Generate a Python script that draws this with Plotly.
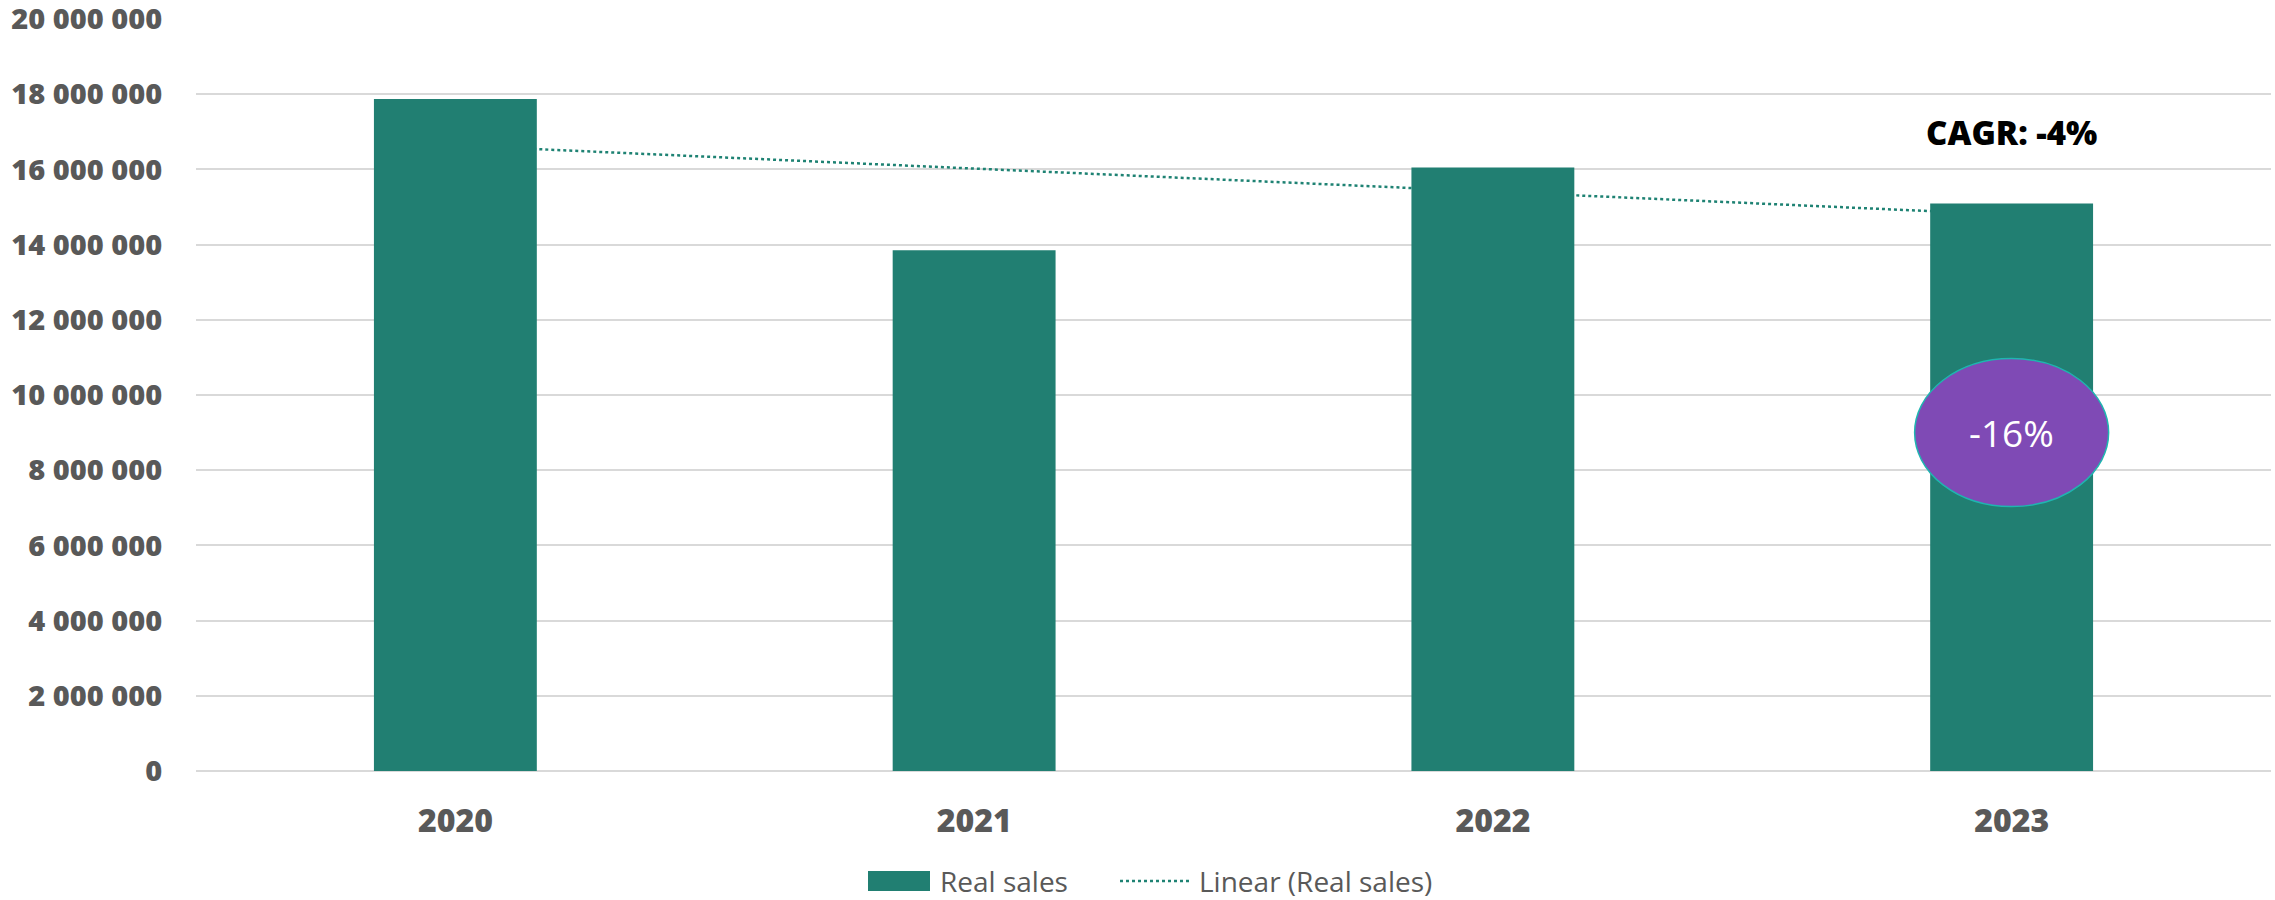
import numpy as np
import plotly.graph_objects as go

# ---- data -------------------------------------------------------------
years = ["2020", "2021", "2022", "2023"]
real_sales = [17_870_000, 13_850_000, 16_050_000, 15_090_000]
y_ticks = [0, 2_000_000, 4_000_000, 6_000_000, 8_000_000, 10_000_000,
           12_000_000, 14_000_000, 16_000_000, 18_000_000, 20_000_000]
series_name = "Real sales"
trend_name = "Linear (Real sales)"
badge_level = 9_000_000          # vertical centre of the change badge

# ---- derived values -----------------------------------------------------
idx = np.arange(len(years))
slope, intercept = np.polyfit(idx, real_sales, 1)
trend = intercept + slope * idx

total_change = real_sales[-1] / real_sales[0] - 1
cagr = (real_sales[-1] / real_sales[0]) ** (1 / len(years)) - 1

# ---- styling -------------------------------------------------------------
W, H = 2275, 900
ML, MR, MT, MB = 196, 4, 19, 129
BAR = "#217f72"
TREND = "#1e8273"
GRID = "#d9d9d9"
LABEL = "#595959"
FONT = "Open Sans"

plot_w = W - ML - MR
plot_h = H - MT - MB


def px_x(px):
    return (px - ML) / plot_w


def px_y(py):
    return (H - MB - py) / plot_h


fig = go.Figure()

# trend line sits on the base axes so the bars (overlay axes) cover it
fig.add_trace(go.Scatter(
    x=years, y=trend, mode="lines", name=trend_name,
    line=dict(color=TREND, width=2.5, dash="dot"),
    xaxis="x", yaxis="y", showlegend=False, hoverinfo="skip",
))
fig.add_trace(go.Bar(
    x=years, y=real_sales, name=series_name,
    marker=dict(color=BAR, line=dict(width=0)),
    xaxis="x", yaxis="y2", showlegend=False,
))

y_range = [0, max(y_ticks)]

fig.update_layout(
    width=W, height=H,
    margin=dict(l=ML, r=MR, t=MT, b=MB, pad=0, autoexpand=False),
    paper_bgcolor="white", plot_bgcolor="white",
    separators=". ",
    bargap=0.686,
    showlegend=False,
    font=dict(family=FONT, color=LABEL),
    xaxis=dict(
        type="category", showgrid=False, showline=False, zeroline=False,
        automargin=False,
        ticks="outside", ticklen=22, tickcolor="rgba(0,0,0,0)",
        tickfont=dict(family=FONT, size=32, color=LABEL, weight=800),
    ),
    yaxis=dict(
        range=y_range, tickvals=y_ticks, tickformat=",",
        showgrid=True, gridcolor=GRID, gridwidth=2,
        zeroline=True, zerolinecolor=GRID, zerolinewidth=2,
        showline=False, ticklabeloverflow="allow", automargin=False,
        ticks="outside", ticklen=27, tickcolor="rgba(0,0,0,0)",
        tickfont=dict(family=FONT, size=29, color=LABEL, weight=800),
    ),
    yaxis2=dict(
        range=y_range, overlaying="y", showgrid=False, zeroline=False,
        showticklabels=False, showline=False, ticks="", automargin=False,
    ),
)

# change badge on the last bar
fig.add_shape(
    type="circle", xref="x", yref="y",
    xsizemode="pixel", ysizemode="pixel",
    xanchor=len(years) - 1, yanchor=badge_level,
    x0=-97, x1=97, y0=-74, y1=74,
    fillcolor="#7f4ab5", line=dict(color="#1fb5b0", width=1.5),
    layer="above",
)
fig.add_annotation(
    x=len(years) - 1, y=badge_level, xref="x", yref="y",
    xanchor="center", yanchor="middle",
    text=f"{total_change:.0%}".replace("−", "-"), showarrow=False,
    font=dict(family=FONT, size=37, color="white"),
)

# CAGR label
fig.add_annotation(
    x=len(years) - 1, y=px_y(133), xref="x", yref="paper",
    xanchor="center", yanchor="middle",
    text=f"CAGR: {cagr:.0%}", showarrow=False,
    font=dict(family=FONT, size=33, color="black", weight=800),
)

# legend
legend_y = px_y(881)
fig.add_shape(
    type="rect", xref="paper", yref="paper",
    x0=px_x(868), x1=px_x(930), y0=px_y(891), y1=px_y(871),
    fillcolor=BAR, line=dict(width=0),
)
fig.add_annotation(
    x=px_x(938), y=legend_y, xref="paper", yref="paper",
    xanchor="left", yanchor="middle", text=series_name, showarrow=False,
    font=dict(family=FONT, size=28, color=LABEL),
)
fig.add_shape(
    type="line", xref="paper", yref="paper",
    x0=px_x(1120), x1=px_x(1190), y0=legend_y, y1=legend_y,
    line=dict(color=TREND, width=2.5, dash="dot"),
)
fig.add_annotation(
    x=px_x(1197), y=legend_y, xref="paper", yref="paper",
    xanchor="left", yanchor="middle", text=trend_name, showarrow=False,
    font=dict(family=FONT, size=28, color=LABEL),
)

fig.write_html("out.html")
